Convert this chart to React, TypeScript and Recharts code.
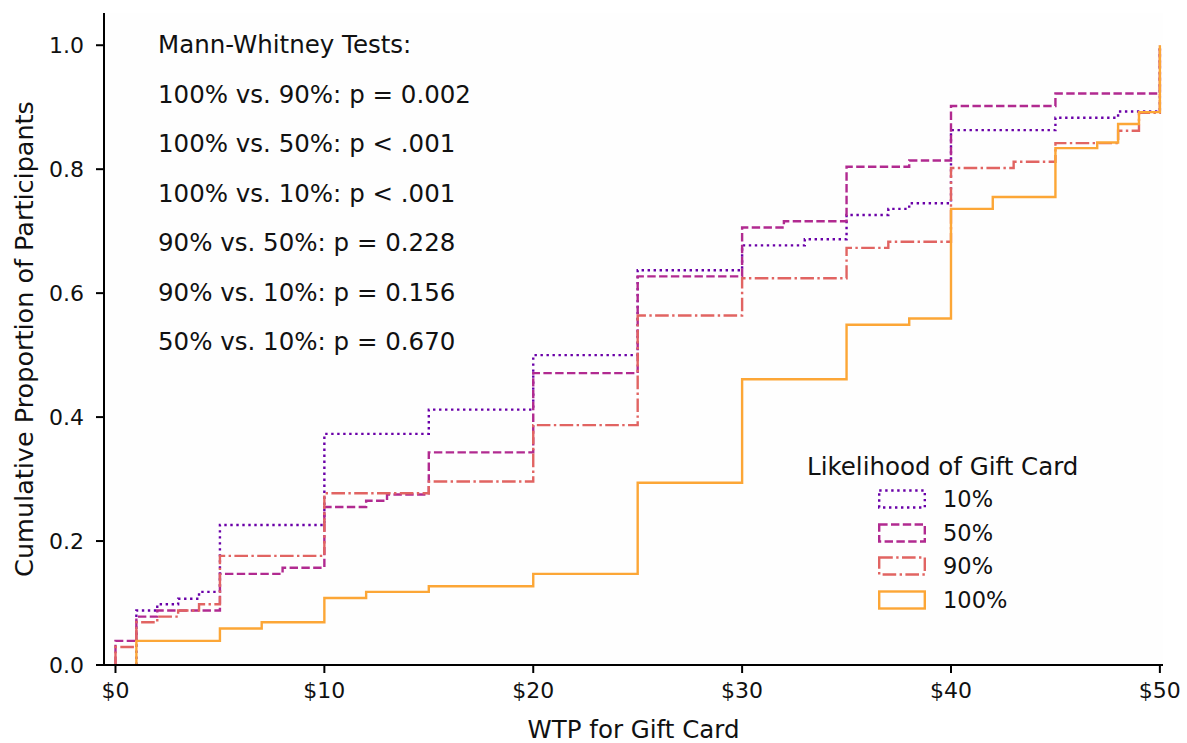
import { CartesianGrid, Legend, Line, LineChart, XAxis, YAxis } from "recharts"

const FONT = "'DejaVu Sans', sans-serif"

const groups = ["10%", "50%", "90%", "100%"]
const colors = ["#6a00a8", "#b12a90", "#e16462", "#fca636"]
const dashes = ["2.4 3.6", "8.4 3.4", "13.6 3.4 2.4 3.4", undefined]

// WTP values ($) where each ECDF steps up, and the cumulative proportion after the step
const wtp10 = [1, 2, 3, 4, 5, 10, 15, 20, 25, 30, 33, 35, 37, 38, 40, 45, 48, 50]
const cdf10 = [0.088, 0.098, 0.107, 0.118, 0.226, 0.373, 0.412, 0.5, 0.637, 0.677, 0.687, 0.726, 0.736, 0.745, 0.863, 0.883, 0.893, 1.0]

const wtp50 = [0, 1, 2, 5, 8, 10, 12, 13, 15, 20, 25, 30, 32, 35, 38, 40, 45, 50]
const cdf50 = [0.039, 0.078, 0.088, 0.147, 0.157, 0.255, 0.265, 0.275, 0.343, 0.471, 0.627, 0.706, 0.716, 0.804, 0.814, 0.902, 0.922, 1.0]

const wtp90 = [0, 1, 2, 3, 4, 5, 10, 15, 20, 25, 30, 35, 37, 40, 43, 45, 48, 49, 50]
const cdf90 = [0.029, 0.069, 0.078, 0.088, 0.098, 0.176, 0.277, 0.296, 0.387, 0.564, 0.624, 0.673, 0.683, 0.802, 0.812, 0.842, 0.862, 0.891, 1.0]

const wtp100 = [1, 5, 7, 10, 12, 15, 20, 25, 30, 35, 38, 40, 42, 45, 47, 48, 49, 50]
const cdf100 = [0.039, 0.059, 0.069, 0.108, 0.118, 0.127, 0.147, 0.294, 0.461, 0.549, 0.559, 0.736, 0.755, 0.834, 0.843, 0.873, 0.892, 1.0]

const xTicks = [0, 10, 20, 30, 40, 50]
const yTicks = [0, 0.2, 0.4, 0.6, 0.8, 1.0]

const tests = [
  "Mann-Whitney Tests:",
  "100% vs. 90%: p = 0.002",
  "100% vs. 50%: p < .001",
  "100% vs. 10%: p < .001",
  "90% vs. 50%: p = 0.228",
  "90% vs. 10%: p = 0.156",
  "50% vs. 10%: p = 0.670",
]

const toSteps = (xs: number[], ys: number[]) => [
  { x: xs[0], y: 0 },
  ...xs.map((x, i) => ({ x, y: ys[i] })),
]

const series = [
  toSteps(wtp10, cdf10),
  toSteps(wtp50, cdf50),
  toSteps(wtp90, cdf90),
  toSteps(wtp100, cdf100),
]

function GroupLegend() {
  return (
    <div style={{ fontFamily: FONT, color: "#111" }}>
      <div style={{ fontSize: 24.5, lineHeight: "30px", whiteSpace: "nowrap" }}>Likelihood of Gift Card</div>
      {groups.map((g, i) => (
        <div key={g} style={{ display: "flex", alignItems: "center", height: 33.7, marginLeft: 71 }}>
          <svg width={48} height={20}>
            <rect x={1.2} y={1.5} width={45.6} height={17} fill="none" stroke={colors[i]} strokeWidth={2.4} strokeDasharray={dashes[i]} />
          </svg>
          <span style={{ marginLeft: 17, fontSize: 22.5 }}>{g}</span>
        </div>
      ))}
    </div>
  )
}

const axisTick = { fill: "#111", fontSize: 22, fontFamily: FONT }
const axisLine = { stroke: "#000", strokeWidth: 2 }

export default function App() {
  return (
    <div style={{ position: "absolute", left: 0, top: 0, width: 1187, height: 743, background: "#fff" }}>
      <LineChart width={1187} height={743} margin={{ top: 13, right: 24, left: 0, bottom: 0 }}>
        <CartesianGrid fill="#fefefe" horizontal={false} vertical={false} />
        <XAxis
          type="number"
          dataKey="x"
          domain={[-0.55, 50.15]}
          allowDataOverflow
          ticks={xTicks}
          tickFormatter={(v) => `$${v}`}
          tick={axisTick}
          tickSize={8}
          tickMargin={9}
          axisLine={axisLine}
          tickLine={axisLine}
          height={78}
          label={{ value: "WTP for Gift Card", position: "insideBottom", offset: 5, fill: "#111", fontSize: 24.5, fontFamily: FONT }}
        />
        <YAxis
          type="number"
          domain={[0, 1.052]}
          allowDataOverflow
          ticks={yTicks}
          tickFormatter={(v) => v.toFixed(1)}
          tick={axisTick}
          tickSize={8}
          tickMargin={12}
          axisLine={axisLine}
          tickLine={axisLine}
          width={104}
          label={{
            value: "Cumulative Proportion of Participants",
            angle: -90,
            position: "insideLeft",
            offset: 24,
            fill: "#111",
            fontSize: 25.5,
            fontFamily: FONT,
            style: { textAnchor: "middle" },
          }}
        />
        {series.map((data, i) => (
          <Line
            key={groups[i]}
            data={data}
            dataKey="y"
            type="stepAfter"
            stroke={colors[i]}
            strokeWidth={2.4}
            strokeDasharray={dashes[i]}
            strokeLinecap="butt"
            dot={false}
            activeDot={false}
            isAnimationActive={false}
          />
        ))}
        <Legend
          content={<GroupLegend />}
          layout="vertical"
          align="center"
          verticalAlign="middle"
          wrapperStyle={{ left: 807, top: 452, width: "auto" }}
        />
      </LineChart>
      <svg width={1187} height={743} style={{ position: "absolute", left: 0, top: 0, pointerEvents: "none" }}>
        {tests.map((t, i) => (
          <text key={t} x={158} y={53 + i * 49.5} fontSize={24.5} fontFamily={FONT} fill="#111">
            {t}
          </text>
        ))}
      </svg>
    </div>
  )
}
